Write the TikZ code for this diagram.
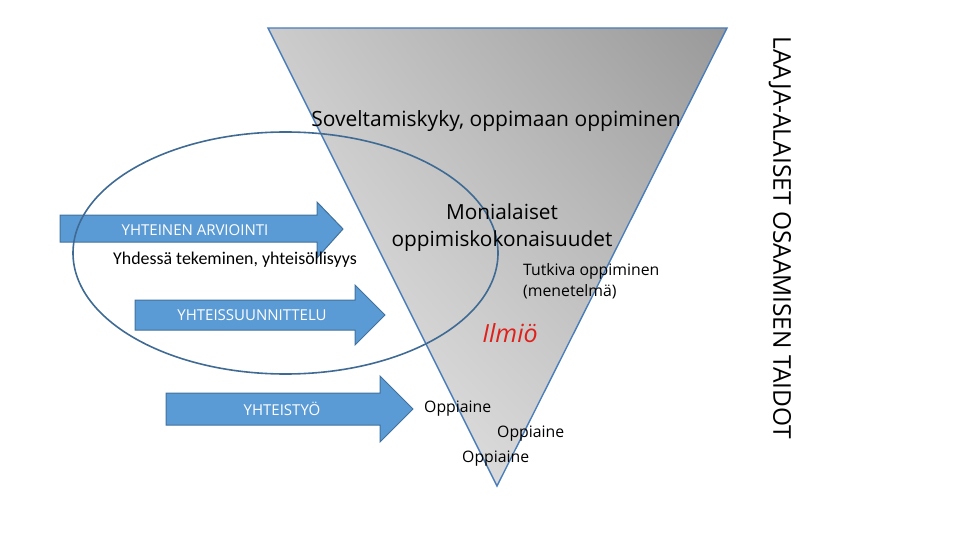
\documentclass[tikz,border=0pt]{standalone}
\usepackage{fontspec}
\setmainfont{Open Sans}
\newfontfamily\calfont{Carlito}
\usetikzlibrary{shapes.geometric,shadings}
\definecolor{arrowfill}{HTML}{5B9BD5}
\definecolor{arrowline}{HTML}{41719C}
\definecolor{triline}{HTML}{4A7EBB}
\definecolor{ellline}{HTML}{3F6A93}
\definecolor{ilmred}{HTML}{E0201B}
\tikzset{
  bigarrow/.style={fill=arrowfill, draw=arrowline, line width=1pt},
  arrowtext/.style={text=white, font=\fontsize{15}{17}\selectfont, inner sep=0pt},
  plain/.style={inner sep=0pt, text=black},
  oppi/.style={plain, font=\fontsize{15.8}{18}\selectfont, anchor=west},
}
\begin{document}
\begin{tikzpicture}[x=1pt,y=-1pt]
\useasboundingbox (0,0) rectangle (960,540);
% triangle
\coordinate (tl) at (268,28);
\coordinate (tr) at (727,28);
\coordinate (ap) at (497,486);
\shade[upper right=black!40, lower left=black!7, upper left=black!20, lower right=black!22]
  (tl) -- (tr) -- (ap) -- cycle;
\draw[triline, line width=1.4pt, line join=miter] (tl) -- (tr) -- (ap) -- cycle;
% arrows
\draw[bigarrow] (60,215) -- (317,215) -- (317,202) -- (343,229) -- (317,258) -- (317,242) -- (60,242) -- cycle;
\draw[bigarrow] (135,300) -- (355,300) -- (355,285) -- (385,315) -- (355,345) -- (355,330) -- (135,330) -- cycle;
\draw[bigarrow] (166,393) -- (380,393) -- (380,376) -- (413,409) -- (380,442) -- (380,425) -- (166,425) -- cycle;
\node[arrowtext] (a1) at (195,230) {YHTEINEN ARVIOINTI};
\node[arrowtext] (a2) at (252,315) {YHTEISSUUNNITTELU};
\node[arrowtext] (a3) at (282,409) {YHTEISTYÖ};
% ellipse
\node[ellipse, draw=ellline, line width=1.6pt, minimum width=425pt, minimum height=242pt, inner sep=0pt] (ell) at (285.5,253) {};
% texts
\node[plain, font=\fontsize{21}{23}\selectfont] (sov) at (496,121) {Soveltamiskyky, oppimaan oppiminen};
\node[plain, font=\fontsize{20.8}{27}\selectfont, align=center] (mon) at (502,228) {Monialaiset\\oppimiskokonaisuudet};
\node[plain, font=\fontsize{15.8}{21}\selectfont, align=left, anchor=west] (tut) at (523,281) {Tutkiva oppiminen\\(menetelmä)};
\node[plain, text=ilmred, font=\fontsize{25}{28}\selectfont\itshape] (ilm) at (510,333) {Ilmiö};
\node[plain, font=\calfont\fontsize{17.9}{20}\selectfont] (yhd) at (235,260) {Yhdessä tekeminen, yhteisöllisyys};
\node[oppi] (op1) at (424,409) {Oppiaine};
\node[oppi] (op2) at (497,434) {Oppiaine};
\node[oppi] (op3) at (462,459) {Oppiaine};
\node[plain, rotate=-90, font=\fontsize{24.5}{26}\selectfont] (laaja) at (780,238) {LAAJA-ALAISET OSAAMISEN TAIDOT};
\end{tikzpicture}
\end{document}
